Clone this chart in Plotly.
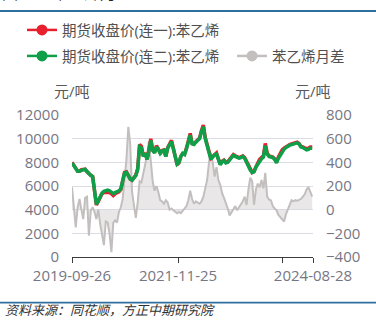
import plotly.graph_objects as go
import pandas as pd

# ---------------- data ----------------
start_date = "2019-09-26"
end_date = "2024-08-28"
dates = pd.date_range(start_date, periods=129, freq="14D")

price_c1 = [8000, 7750, 7450, 7250, 7250, 7380, 7400, 7420, 7200, 7000,
            6900, 6800, 5600, 4400, 4700, 5100, 5350, 5450, 5450, 5500,
            5450, 5350, 5200, 5350, 5400, 5500, 5700, 6400, 7150, 7200,
            6950, 6600, 6500, 6650, 6900, 7450, 9500, 9350, 8550, 8800,
            8250, 9050, 10000, 9050, 8850, 9400, 9150, 8750, 9000, 9050,
            8500, 9250, 9550, 9850, 9200, 8500, 7800, 7950, 8500, 8750,
            8700, 9200, 9800, 10450, 9600, 9550, 9750, 9900, 10050, 10700,
            11150, 10100, 9500, 8850, 8350, 8500, 8700, 8800, 8300, 7850,
            8100, 8200, 8000, 8050, 8250, 8500, 8650, 8550, 8500, 8400,
            8450, 8550, 8400, 8050, 7700, 7350, 7150, 7250, 7700, 7950,
            8250, 8400, 8550, 9600, 8800, 8550, 8500, 8450, 8300, 8050,
            8450, 8800, 9050, 9200, 9300, 9450, 9500, 9550, 9600, 9650,
            9700, 9600, 9350, 9300, 9250, 9150, 9200, 9300, 9300]

price_c2 = [7950, 7700, 7450, 7250, 7250, 7350, 7380, 7400, 7200, 7000,
            6900, 6800, 5600, 4450, 4750, 5150, 5400, 5550, 5600, 5650,
            5600, 5500, 5350, 5450, 5500, 5600, 5750, 6400, 7100, 7150,
            6900, 6600, 6500, 6650, 6900, 7400, 9300, 9200, 8500, 8750,
            8250, 9000, 9850, 9000, 8800, 9300, 9100, 8750, 8950, 9000,
            8500, 9200, 9500, 9750, 9150, 8500, 7850, 8000, 8500, 8750,
            8650, 9150, 9700, 10300, 9550, 9500, 9700, 9850, 10000, 10600,
            11000, 10000, 9400, 8700, 8250, 8450, 8650, 8700, 8200, 7800,
            8050, 8150, 7950, 8000, 8200, 8450, 8600, 8500, 8450, 8350,
            8400, 8500, 8350, 8000, 7700, 7350, 7150, 7200, 7600, 7850,
            8100, 8300, 8450, 9400, 8700, 8500, 8450, 8400, 8250, 7950,
            8350, 8650, 8950, 9100, 9250, 9400, 9450, 9500, 9550, 9600,
            9650, 9550, 9300, 9250, 9150, 9050, 9100, 9200, 9200]

spread = [190, 30, -150, 20, 90, 0, -80, 100, 110, -220,
          -10, 20, -20, -80, 0, -120, -230, -300, -100, -110,
          -200, -360, -110, -90, -110, -20, 20, 90, 260, 420,
          700, 560, 150, 30, -70, 60, 240, 230, 310, 370,
          460, 580, 380, 240, 160, 200, 150, 80, 70, 50,
          80, 60, 0, 10, -5, -20, -30, -20, -30, -10,
          10, 30, 80, 160, 90, 50, 70, 60, 50, 70,
          110, 180, 250, 400, 480, 400, 280, 360, 250, 210,
          140, 100, 60, 10, -50, -20, 10, 30, -5, 20,
          40, 70, 110, 40, 170, 270, 240, 40, 170, 220,
          190, 250, 180, 310, 110, 85, 80, 30, 10, -5,
          -45, -65, -75, -100, -40, 0, 40, 80, 70, 80,
          75, 80, 90, 110, 130, 170, 190, 150, 110]

names = ["期货收盘价(连一):苯乙烯", "期货收盘价(连二):苯乙烯", "苯乙烯月差"]
colors = ["#e8202e", "#0f9f48", "#c4bfbf"]

x_tick_vals = ["2019-09-26", "2021-11-25", "2024-01-17", "2024-08-28"]
x_tick_text = ["2019-09-26", "2021-11-25", "", "2024-08-28"]
left_ticks = [0, 2000, 4000, 6000, 8000, 10000, 12000]
right_ticks = [-400, -200, 0, 200, 400, 600, 800]

title_text = "图88：苯乙烯月差"
source_text = "资料来源：同花顺，方正中期研究院"
unit_text = "元/吨"

FONT = "Open Sans, Noto Sans CJK SC, sans-serif"
TICK_COLOR = "#767683"
LEG_COLOR = "#505050"

fig = go.Figure()

# spread (right axis, drawn first = behind)
fig.add_trace(go.Scatter(x=dates, y=spread, mode="lines", yaxis="y",
                         line=dict(color=colors[2], width=2),
                         fill="tozeroy", fillcolor="rgba(215,212,212,0.55)",
                         showlegend=False, hoverinfo="skip"))
# prices (left axis)
fig.add_trace(go.Scatter(x=dates, y=price_c1, mode="lines", yaxis="y2",
                         line=dict(color=colors[0], width=3.5),
                         showlegend=False))
fig.add_trace(go.Scatter(x=dates, y=price_c2, mode="lines", yaxis="y2",
                         line=dict(color=colors[1], width=3.5),
                         showlegend=False))

# legend entries (one legend per entry so they can be placed like the reference)
legend_ids = ["legend", "legend2", "legend3"]
for nm, c, lg in zip(names, colors, legend_ids):
    fig.add_trace(go.Scatter(x=[None], y=[None], mode="lines+markers", name=nm,
                             yaxis="y2", legend=lg,
                             line=dict(color=c, width=2.5),
                             marker=dict(color=c, size=11, symbol="circle")))

def leg(x, y):
    return dict(orientation="h", x=x, xanchor="left", y=y, yanchor="middle",
                font=dict(size=14.5, color=LEG_COLOR), itemwidth=30,
                bgcolor="rgba(0,0,0,0)")

fig.update_layout(
    width=376, height=324,
    margin=dict(l=72, r=63, t=115, b=67),
    paper_bgcolor="white", plot_bgcolor="white",
    font=dict(family=FONT, size=15, color=TICK_COLOR),
    showlegend=True,
    legend=leg(-0.2075, 1.5986),
    legend2=leg(-0.2075, 1.4155),
    legend3=leg(0.664, 1.4155),
    xaxis=dict(type="date", range=[start_date, end_date],
               tickmode="array", tickvals=x_tick_vals, ticktext=x_tick_text,
               showgrid=False, showline=True, linecolor="#3c3c3c", linewidth=1.3,
               ticks="outside", ticklen=5, tickcolor="#3c3c3c", tickwidth=1.3,
               tickfont=dict(size=15, color=TICK_COLOR), zeroline=False,
               anchor="y"),
    yaxis=dict(side="right", range=[-400, 800], tickmode="array", tickvals=right_ticks,
               showgrid=True, gridcolor="#dcdce6", gridwidth=1, zeroline=False,
               ticks="outside", ticklen=9, tickcolor="rgba(0,0,0,0)",
               tickfont=dict(size=15, color=TICK_COLOR), showline=False),
    yaxis2=dict(side="left", overlaying="y", range=[0, 12000], tickmode="array",
                tickvals=left_ticks, tickformat="d", showgrid=False, zeroline=False,
                ticks="outside", ticklen=9, tickcolor="rgba(0,0,0,0)",
                tickfont=dict(size=15, color=TICK_COLOR), showline=False),
    shapes=[
        dict(type="line", xref="paper", yref="paper", x0=-0.30, x1=1.27,
             y0=1.7324, y1=1.7324, line=dict(color="#2f6f9f", width=1.8)),
        dict(type="line", xref="paper", yref="paper", x0=-0.30, x1=1.27,
             y0=-0.3218, y1=-0.3218, line=dict(color="#2f6f9f", width=1.8)),
    ],
    annotations=[
        dict(text=unit_text, xref="paper", yref="paper", x=0, y=1.169,
             xanchor="center", yanchor="middle", showarrow=False,
             font=dict(size=15, color="#595959")),
        dict(text=unit_text, xref="paper", yref="paper", x=1, y=1.169,
             xanchor="center", yanchor="middle", showarrow=False,
             font=dict(size=15, color="#595959")),
        dict(text=title_text, xref="paper", yref="paper", x=-0.299, y=1.862,
             xanchor="left", yanchor="middle", showarrow=False,
             font=dict(size=16, color="#222222")),
        dict(text="<i>" + source_text + "</i>", xref="paper", yref="paper",
             x=-0.287, y=-0.373, xanchor="left", yanchor="middle", showarrow=False,
             font=dict(size=13, color="#333333", family="Noto Sans CJK SC")),
    ],
)

fig.write_html("out.html")
